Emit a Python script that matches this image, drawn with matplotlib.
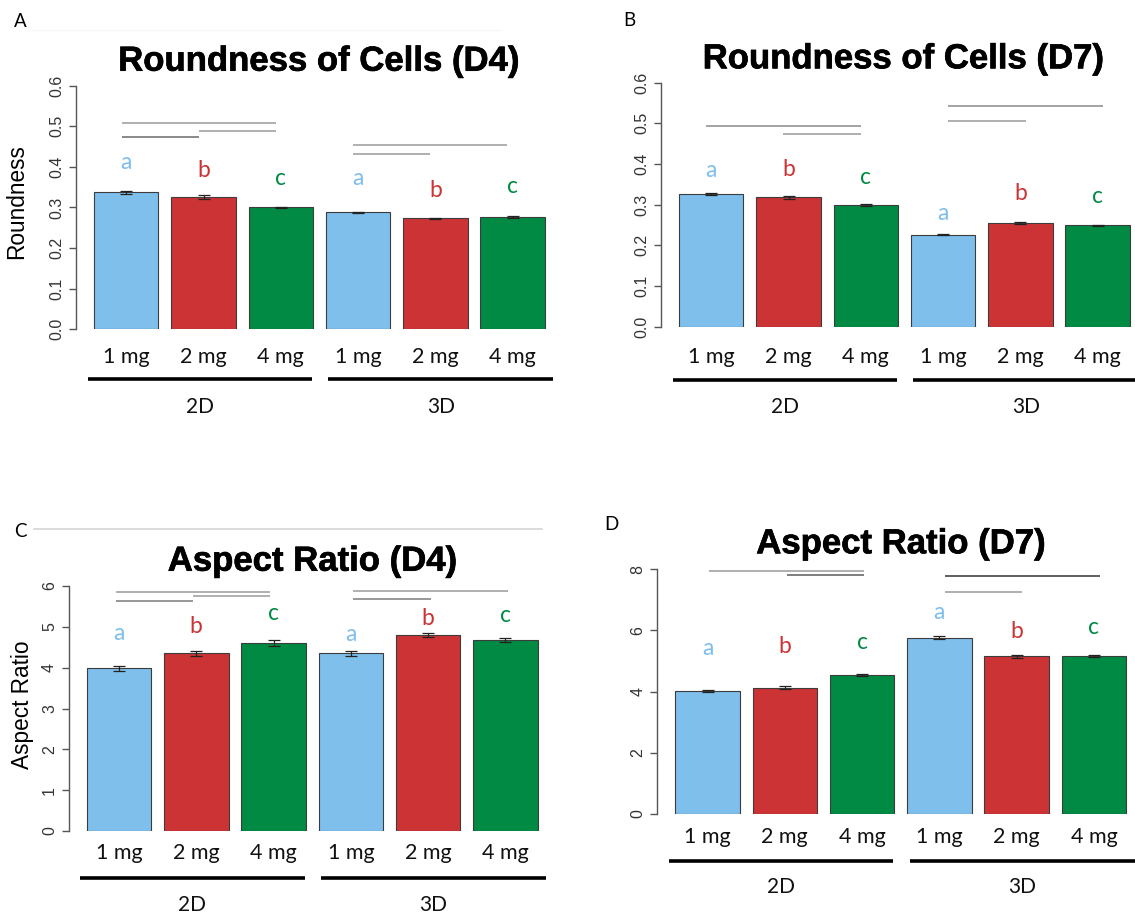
import matplotlib
matplotlib.use("Agg")
import matplotlib.pyplot as plt
import matplotlib.patheffects as pe
from matplotlib.lines import Line2D
from matplotlib.transforms import blended_transform_factory
import numpy as np

# ---------------------------------------------------------------- data
doses = ["1 mg", "2 mg", "4 mg", "1 mg", "2 mg", "4 mg"]
cultures = ["2D", "3D"]
letters = ["a", "b", "c", "a", "b", "c"]

round_d4 = [0.337, 0.326, 0.300, 0.288, 0.273, 0.276]
round_d4_se = [0.004, 0.004, 0.002, 0.002, 0.0015, 0.003]
round_d7 = [0.326, 0.318, 0.299, 0.226, 0.255, 0.249]
round_d7_se = [0.003, 0.003, 0.003, 0.001, 0.002, 0.0015]
aspect_d4 = [3.98, 4.35, 4.60, 4.35, 4.80, 4.68]
aspect_d4_se = [0.057, 0.065, 0.070, 0.057, 0.060, 0.053]
aspect_d7 = [4.03, 4.13, 4.55, 5.77, 5.15, 5.16]
aspect_d7_se = [0.03, 0.04, 0.04, 0.06, 0.05, 0.04]

# heights of the group letters (data units)
letters_y_rd4 = [0.394, 0.376, 0.355, 0.355, 0.327, 0.335]
letters_y_rd7 = [0.369, 0.371, 0.351, 0.262, 0.312, 0.303]
letters_y_ad4 = [4.68, 4.84, 5.17, 4.66, 5.05, 5.13]
letters_y_ad7 = [5.20, 5.25, 5.38, 6.36, 5.77, 5.90]

# comparison lines: (first bar, last bar, height, grey)
brackets_rd4 = [(0, 2, 0.509, "#9a9a9a"), (1, 2, 0.489, "#9a9a9a"), (0, 1, 0.473, "#6a6a6a"),
                (3, 5, 0.454, "#9a9a9a"), (3, 4, 0.432, "#9a9a9a")]
brackets_rd7 = [(0, 2, 0.493, "#8a8a8a"), (1, 2, 0.474, "#9a9a9a"),
                (3, 5, 0.543, "#8a8a8a"), (3, 4, 0.506, "#9a9a9a")]
brackets_ad4 = [(0, 2, 5.86, "#9a9a9a"), (1, 2, 5.76, "#9a9a9a"), (0, 1, 5.64, "#7a7a7a"),
                (3, 5, 5.87, "#9a9a9a"), (3, 4, 5.67, "#7a7a7a")]
brackets_ad7 = [(0, 2, 7.94, "#9a9a9a"), (1, 2, 7.81, "#5a5a5a"),
                (3, 5, 7.77, "#333333"), (3, 4, 7.26, "#9a9a9a")]

# ---------------------------------------------------------------- style
W, H, DPI = 1135, 916, 100
BLUE, RED, GREEN = "#7EBFEC", "#CC3335", "#008A43"
bar_colors = [BLUE, RED, GREEN, BLUE, RED, GREEN]
letter_colors = {"a": BLUE, "b": RED, "c": GREEN}
CAL = ["Lato", "DejaVu Sans"]
plt.rcParams["font.family"] = ["Liberation Sans", "DejaVu Sans"]

PPU = 64.4              # pixels per bar unit
XMIN, XMAX = -0.08, 7.3
centers = 0.7 + 1.2 * np.arange(6)


def fx(px):
    return px / W


def fy(py):
    return 1 - py / H


panels = [
    dict(label="A", title="Roundness of Cells (D4)", values=round_d4, se=round_d4_se,
         letters_y=letters_y_rd4, brackets=brackets_rd4, ylabel="Roundness",
         ticks=[0, 0.1, 0.2, 0.3, 0.4, 0.5, 0.6], fmt="{:.1f}", ymax=0.6,
         left=76, y0=329.3, ytop=85.7, title_xy=(319, 70.7), label_xy=(20.7, 26.7),
         dose_y=362.7, line_y=379.3, group_y=412.5, ylabel_xy=(17, 202),
         shifts=(-0.07, -0.08)),
    dict(label="B", title="Roundness of Cells (D7)", values=round_d7, se=round_d7_se,
         letters_y=letters_y_rd7, brackets=brackets_rd7, ylabel=None,
         ticks=[0, 0.1, 0.2, 0.3, 0.4, 0.5, 0.6], fmt="{:.1f}", ymax=0.6,
         left=661, y0=326.7, ytop=82.7, title_xy=(903.5, 68.3), label_xy=(629, 26),
         dose_y=362.7, line_y=380.3, group_y=412.5, ylabel_xy=None,
         shifts=(-0.08, 0.08)),
    dict(label="C", title="Aspect Ratio (D4)", values=aspect_d4, se=aspect_d4_se,
         letters_y=letters_y_ad4, brackets=brackets_ad4, ylabel="Aspect Ratio",
         ticks=[0, 1, 2, 3, 4, 5, 6], fmt="{:d}", ymax=6,
         left=68.8, y0=831, ytop=586, title_xy=(312.5, 570.7), label_xy=(20.7, 537.3),
         dose_y=859.3, line_y=878.3, group_y=910.7, ylabel_xy=(22.6, 705),
         shifts=(-0.05, 0.04)),
    dict(label="D", title="Aspect Ratio (D7)", values=aspect_d7, se=aspect_d7_se,
         letters_y=letters_y_ad7, brackets=brackets_ad7, ylabel=None,
         ticks=[0, 2, 4, 6, 8], fmt="{:d}", ymax=8,
         left=657.3, y0=814, ytop=569.3, title_xy=(901, 553.3), label_xy=(611.4, 530),
         dose_y=843.3, line_y=860.7, group_y=893.3, ylabel_xy=None,
         shifts=(0.03, 0.09)),
]

fig = plt.figure(figsize=(W / DPI, H / DPI), dpi=DPI)
fig.patch.set_facecolor("white")

# thin rules separating the rows
fig.add_artist(Line2D([fx(30), fx(500)], [fy(30), fy(30)], color="#f6f6f6", lw=1.0))
fig.add_artist(Line2D([fx(33.7), fx(541.7)], [fy(529), fy(529)], color="#d9d9d9", lw=1.3))

for p in panels:
    width = PPU * (XMAX - XMIN)
    ax = fig.add_axes([fx(p["left"]), fy(p["y0"]), width / W, (p["y0"] - p["ytop"]) / H])
    ax.set_xlim(XMIN, XMAX)
    ax.set_ylim(0, p["ymax"])
    ax.patch.set_alpha(0)

    ax.bar(centers, p["values"], width=1.0, color=bar_colors,
           edgecolor="#3c3c3c", linewidth=0.8, zorder=2)
    ax.errorbar(centers, p["values"], yerr=p["se"], fmt="none", ecolor="#222222",
                elinewidth=0.9, capsize=4.3, capthick=0.9, zorder=3)

    for s in ["top", "right", "bottom"]:
        ax.spines[s].set_visible(False)
    ax.spines["left"].set_bounds(0, p["ymax"])
    ax.spines["left"].set_color("#555555")
    ax.spines["left"].set_linewidth(1.0)
    ax.set_xticks([])
    ax.set_yticks(p["ticks"])
    ax.set_yticklabels([p["fmt"].format(t) for t in p["ticks"]], rotation=90,
                       va="center", fontsize=11.5, color="#333333")
    ax.tick_params(axis="y", length=5, width=1.0, color="#555555", pad=3.5)

    # group letters
    for xc, ly, let in zip(centers, p["letters_y"], letters):
        ax.text(xc, ly, let, ha="center", va="baseline", fontsize=16.5,
                color=letter_colors[let], family=CAL, zorder=4)

    # comparison lines
    for i, j, level, grey in p["brackets"]:
        sh = p["shifts"][0] if i < 3 else p["shifts"][1]
        ax.plot([centers[i] + sh, centers[j] + sh], [level, level], color=grey,
                lw=1.1, solid_capstyle="butt", clip_on=False, zorder=1)

    # dose labels, culture underline and culture labels
    tr = blended_transform_factory(ax.transData, fig.transFigure)
    for xc, d in zip(centers, doses):
        ax.text(xc, fy(p["dose_y"]), d, transform=tr, ha="center", va="baseline",
                fontsize=15.5, family=CAL, color="#111111")
    for k, name in enumerate(cultures):
        x0, x1 = (0.1, 3.58) if k == 0 else (3.84, 7.33)
        ax.add_line(Line2D([x0, x1], [fy(p["line_y"])] * 2, transform=tr, color="black",
                           lw=2.6, solid_capstyle="butt", clip_on=False))
        ax.text((x0 + x1) / 2, fy(p["group_y"]), name, transform=tr, ha="center",
                va="baseline", fontsize=15, family=CAL, color="#111111")

    # title, panel letter and axis label
    fig.text(fx(p["title_xy"][0]), fy(p["title_xy"][1]), p["title"], ha="center",
             va="baseline", fontsize=25, fontweight="bold", color="black",
             path_effects=[pe.withStroke(linewidth=0.5, foreground="black")])
    fig.text(fx(p["label_xy"][0]), fy(p["label_xy"][1]), p["label"], ha="center",
             va="baseline", fontsize=13.5, family=CAL, color="black")
    if p["ylabel"]:
        fig.text(fx(p["ylabel_xy"][0]), fy(p["ylabel_xy"][1]), p["ylabel"], rotation=90,
                 ha="center", va="center", fontsize=16.3, color="black")

fig.savefig("out.png", dpi=DPI, facecolor="white")
